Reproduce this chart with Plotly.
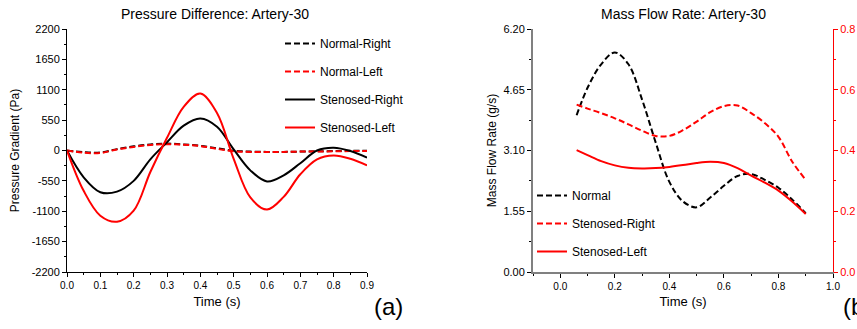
import plotly.graph_objects as go

# ---------- Panel (a): Pressure difference ----------
time_a = [0.0, 0.05, 0.1, 0.15, 0.2, 0.25, 0.3, 0.35, 0.4, 0.45,
          0.5, 0.55, 0.6, 0.65, 0.7, 0.75, 0.8, 0.85, 0.9]
normal_right_pa = [0, -30, -35, 25, 75, 110, 125, 110, 85, 40,
                   -5, -20, -25, -25, -20, -15, -10, -5, -5]
normal_left_pa = [0, -40, -45, 20, 65, 100, 115, 105, 80, 30,
                  -15, -25, -25, -25, -20, -18, -15, -10, -10]
stenosed_right_pa = [0, -485, -755, -745, -550, -160, 150, 450, 580, 430,
                     20, -360, -560, -450, -230, 0, 50, -10, -130]
stenosed_left_pa = [0, -730, -1180, -1290, -1090, -390, 230, 790, 1030, 680,
                    -150, -850, -1070, -840, -430, -160, -90, -150, -270]
y_ticks_a = [-2200, -1650, -1100, -550, 0, 550, 1100, 1650, 2200]

# ---------- Panel (b): Mass flow rate ----------
time_b = [0.06, 0.1, 0.15, 0.2, 0.25, 0.3, 0.35, 0.4, 0.45,
          0.5, 0.55, 0.6, 0.65, 0.7, 0.75, 0.8, 0.85, 0.9]
normal_gs = [4.0, 4.7, 5.3, 5.6, 5.3, 4.4, 3.3, 2.3, 1.8,
             1.65, 1.9, 2.2, 2.45, 2.5, 2.35, 2.15, 1.85, 1.5]
stenosed_right_b = [0.551, 0.538, 0.523, 0.506, 0.486, 0.465, 0.448, 0.448, 0.467,
                    0.495, 0.526, 0.546, 0.548, 0.523, 0.490, 0.445, 0.364, 0.303]
stenosed_left_b = [0.401, 0.385, 0.365, 0.351, 0.343, 0.341, 0.342, 0.346, 0.352,
                   0.359, 0.363, 0.359, 0.342, 0.317, 0.294, 0.268, 0.232, 0.191]
y_ticks_b = [0.00, 1.55, 3.10, 4.65, 6.20]
y_ticks_b_right = [0.0, 0.2, 0.4, 0.6, 0.8]

FONT = "Arial, Liberation Sans, sans-serif"
RED = "#ff0000"
BLACK = "#000000"
GREY = "#808080"
DASH = "6px,3px"

fig = go.Figure()

# panel a traces
fig.add_trace(go.Scatter(x=time_a, y=normal_right_pa, name="Normal-Right", mode="lines",
                         line=dict(color=BLACK, width=2, dash=DASH, shape="spline"),
                         xaxis="x", yaxis="y", legend="legend", legendgroup="a1"))
fig.add_trace(go.Scatter(x=time_a, y=normal_left_pa, name="Normal-Left", mode="lines",
                         line=dict(color=RED, width=2, dash=DASH, shape="spline"),
                         xaxis="x", yaxis="y", legend="legend", legendgroup="a2"))
fig.add_trace(go.Scatter(x=time_a, y=stenosed_right_pa, name="Stenosed-Right", mode="lines",
                         line=dict(color=BLACK, width=2, shape="spline"),
                         xaxis="x", yaxis="y", legend="legend", legendgroup="a3"))
fig.add_trace(go.Scatter(x=time_a, y=stenosed_left_pa, name="Stenosed-Left", mode="lines",
                         line=dict(color=RED, width=2, shape="spline"),
                         xaxis="x", yaxis="y", legend="legend", legendgroup="a4"))

# panel b traces
fig.add_trace(go.Scatter(x=time_b, y=normal_gs, name="Normal", mode="lines",
                         line=dict(color=BLACK, width=2, dash=DASH, shape="spline"),
                         xaxis="x2", yaxis="y2", legend="legend2", legendgroup="b1"))
fig.add_trace(go.Scatter(x=time_b, y=stenosed_right_b, name="Stenosed-Right", mode="lines",
                         line=dict(color=RED, width=2, dash=DASH, shape="spline"),
                         xaxis="x2", yaxis="y3", legend="legend2", legendgroup="b2"))
fig.add_trace(go.Scatter(x=time_b, y=stenosed_left_b, name="Stenosed-Left", mode="lines",
                         line=dict(color=RED, width=2, shape="spline"),
                         xaxis="x2", yaxis="y3", legend="legend2", legendgroup="b3"))

XD1 = [67 / 857, 367 / 857]
XD2 = [533 / 857, 833 / 857]
YD = [1 - 272 / 329, 1 - 29 / 329]

tickfont_x = dict(family=FONT, size=10, color=BLACK)
tickfont_y = dict(family=FONT, size=11, color=BLACK)
xtitlefont = dict(family=FONT, size=13, color=BLACK)
ytitlefont = dict(family=FONT, size=12, color=BLACK)

fig.update_layout(
    width=857, height=329,
    margin=dict(l=0, r=0, t=0, b=0, autoexpand=False),
    paper_bgcolor="white", plot_bgcolor="white",
    font=dict(family=FONT, color=BLACK),
    xaxis=dict(domain=XD1, anchor="y", range=[0, 0.9], tickmode="array", automargin=False,
               tickvals=[i / 10 for i in range(10)], ticktext=[f"{i/10:.1f}" for i in range(10)],
               showgrid=False, zeroline=False, showline=True, linecolor=BLACK, linewidth=1,
               ticks="outside", ticklen=4, tickcolor=BLACK, tickfont=tickfont_x,
               minor=dict(dtick=0.05, tick0=0, ticks="outside", ticklen=2, tickcolor=BLACK, showgrid=False),
               title=dict(text="Time (s)", font=xtitlefont, standoff=6)),
    yaxis=dict(domain=YD, anchor="x", range=[-2200, 2200], tickmode="array", automargin=False,
               tickvals=y_ticks_a, ticktext=[str(v) for v in y_ticks_a],
               showgrid=False, zeroline=False, showline=True, linecolor=BLACK, linewidth=1,
               ticks="outside", ticklen=4, tickcolor=BLACK, tickfont=tickfont_y,
               minor=dict(dtick=275, tick0=0, ticks="outside", ticklen=2, tickcolor=BLACK, showgrid=False),
               title=dict(text="Pressure Gradient (Pa)", font=ytitlefont, standoff=9)),
    xaxis2=dict(domain=XD2, anchor="y2", range=[-0.1, 1.0], tickmode="array", automargin=False,
                tickvals=[0, 0.2, 0.4, 0.6, 0.8, 1.0], ticktext=["0.0", "0.2", "0.4", "0.6", "0.8", "1.0"],
                showgrid=False, zeroline=False, showline=True, linecolor=GREY, linewidth=2,
                ticks="outside", ticklen=4, tickcolor=BLACK, tickfont=tickfont_x,
                minor=dict(dtick=0.1, tick0=0, ticks="outside", ticklen=2, tickcolor=BLACK, showgrid=False),
                title=dict(text="Time (s)", font=xtitlefont, standoff=6)),
    yaxis2=dict(domain=YD, anchor="x2", range=[0, 6.2], tickmode="array", automargin=False,
                tickvals=y_ticks_b, ticktext=[f"{v:.2f}" for v in y_ticks_b],
                showgrid=False, zeroline=False, showline=True, linecolor=GREY, linewidth=2,
                ticks="outside", ticklen=4, tickcolor=BLACK, tickfont=tickfont_y,
                minor=dict(dtick=0.775, tick0=0, ticks="outside", ticklen=2, tickcolor=BLACK, showgrid=False),
                title=dict(text="Mass Flow Rate (g/s)", font=ytitlefont, standoff=4)),
    yaxis3=dict(overlaying="y2", anchor="x2", side="right", range=[0, 0.8], tickmode="array",
                automargin=False,
                tickvals=y_ticks_b_right, ticktext=[f"{v:.1f}" for v in y_ticks_b_right],
                showgrid=False, zeroline=False, showline=True, linecolor=RED, linewidth=1,
                ticks="outside", ticklen=4, tickcolor=RED,
                tickfont=dict(family=FONT, size=11, color=RED),
                minor=dict(dtick=0.1, tick0=0, ticks="outside", ticklen=2, tickcolor=RED, showgrid=False)),
    legend=dict(x=280 / 857, y=1 - 29 / 329, xanchor="left", yanchor="top",
                bgcolor="rgba(0,0,0,0)", borderwidth=0, tracegroupgap=9,
                font=dict(family=FONT, size=12, color=BLACK), itemwidth=30),
    legend2=dict(x=532 / 857, y=1 - 181 / 329, xanchor="left", yanchor="top",
                 bgcolor="rgba(0,0,0,0)", borderwidth=0, tracegroupgap=9,
                 font=dict(family=FONT, size=12, color=BLACK), itemwidth=30),
    annotations=[
        dict(text="Pressure Difference: Artery-30", x=215 / 857, y=1 - 14 / 329,
             xref="paper", yref="paper", showarrow=False, xanchor="center", yanchor="middle",
             font=dict(family=FONT, size=14, color=BLACK)),
        dict(text="Mass Flow Rate: Artery-30", x=683 / 857, y=1 - 14 / 329,
             xref="paper", yref="paper", showarrow=False, xanchor="center", yanchor="middle",
             font=dict(family=FONT, size=14, color=BLACK)),
        dict(text="(a)", x=388 / 857, y=1 - 306 / 329,
             xref="paper", yref="paper", showarrow=False, xanchor="center", yanchor="middle",
             font=dict(family=FONT, size=24, color=BLACK)),
        dict(text="(b)", x=841 / 857, y=1 - 306 / 329,
             xref="paper", yref="paper", showarrow=False, xanchor="left", yanchor="middle",
             font=dict(family=FONT, size=24, color=BLACK)),
    ],
)

fig.write_html("out.html", config={"displayModeBar": False},
               post_script="document.body.style.margin='0';")
